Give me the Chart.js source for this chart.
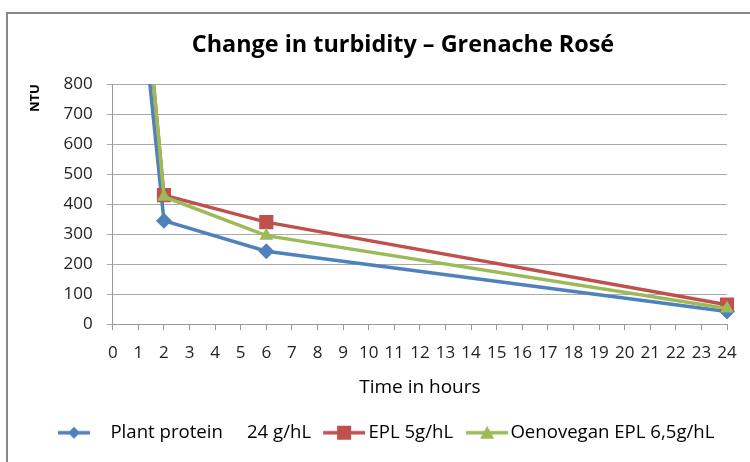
<!DOCTYPE html>
<html>
<head>
<meta charset="utf-8">
<script src="https://cdn.jsdelivr.net/npm/chart.js@4"></script>
<style>
  html, body { margin: 0; padding: 0; background: #fff; overflow: hidden; }
  #wrap { position: relative; width: 750px; height: 462px; overflow: hidden; }
  #frame { position: absolute; left: 6px; top: 12px; width: 800px; height: 500px;
           border-left: 2px solid #888; border-top: 2px solid #888; }
  #box { position: absolute; left: 0; top: 0; width: 750px; height: 462px; }
</style>
</head>
<body>
<div id="wrap">
  <div id="frame"></div>
  <div id="box"><canvas id="myChart" width="750" height="462"></canvas></div>
</div>
<script>
// hours since start
const hours = [0, 2, 6, 24];
// NTU readings
const plantProtein = [2000, 345, 243, 42];
const epl = [2250, 430, 340, 65];
const oenovegan = [2300, 425, 295, 52];
const seriesNames = ["           Plant protein     24 g/hL", "EPL 5g/hL", "Oenovegan EPL 6,5g/hL"];
const yTicks = { min: 0, max: 800, step: 100 };
const xTicks = { min: 0, max: 24, step: 1 };

const colors = ["#4F81BD", "#C0504D", "#9BBB59"];
const markers = ["diamond", "square", "triangle"];
const FONT = "'Open Sans', Lato, sans-serif";

function points(vals) {
  return hours.map((h, i) => ({ x: h, y: vals[i] }));
}

// line + marker icon for the legend; shift moves the visible part right
function legendIcon(color, marker, len, shift) {
  const w = 2 * (shift + len / 2) + 2;
  const c = document.createElement("canvas");
  c.width = w;
  c.height = 18;
  const g = c.getContext("2d");
  const x0 = w / 2 + shift - len / 2;
  const cx = x0 + len / 2;
  g.strokeStyle = color;
  g.fillStyle = color;
  g.lineWidth = 3.5;
  g.beginPath();
  g.moveTo(x0, 9);
  g.lineTo(x0 + len, 9);
  g.stroke();
  g.beginPath();
  if (marker === "diamond") {
    g.moveTo(cx, 3); g.lineTo(cx + 6, 9); g.lineTo(cx, 15); g.lineTo(cx - 6, 9);
  } else if (marker === "square") {
    g.rect(cx - 7, 2, 14, 14);
  } else {
    g.moveTo(cx, 2); g.lineTo(cx + 7, 15); g.lineTo(cx - 7, 15);
  }
  g.closePath();
  g.fill();
  return c;
}
const iconLen = [32, 42, 42];
const iconShift = [44, 3, 4];

const pointStyles = ["rectRot", "rect", "triangle"];
const pointRadii = [8, 10, 8];
const allSeries = [plantProtein, epl, oenovegan];

const data = {
  datasets: allSeries.map((vals, i) => ({
    label: seriesNames[i],
    data: points(vals),
    borderColor: colors[i],
    backgroundColor: colors[i],
    borderWidth: 3.5,
    pointStyle: pointStyles[i],
    pointRadius: (ctx) => (ctx.dataIndex === 0 ? 0 : pointRadii[i]),
    pointBorderWidth: 0,
    order: 2 - i,
    clip: { left: 0, top: 0, right: 15, bottom: 15 },
  })),
};

const config = {
  type: "line",
  data: data,
  options: {
    responsive: false,
    animation: false,
    layout: { padding: { top: 12, right: 23, left: 0, bottom: 10 } },
    plugins: {
      title: {
        display: true,
        text: "             Change in turbidity \u2013 Grenache Ros\u00e9",
        color: "#000",
        font: { family: FONT, size: 23.4, weight: "bold" },
        padding: { top: 19, bottom: 25 },
      },
      legend: {
        position: "bottom",
        align: "start",
        labels: {
          usePointStyle: true,
          pointStyleWidth: 36,
          color: "#000",
          padding: 12,
          font: { family: FONT, size: 18.6 },
          generateLabels: (chart) =>
            chart.data.datasets.map((ds, i) => ({
              text: ds.label,
              pointStyle: legendIcon(colors[i], markers[i], iconLen[i], iconShift[i]),
              fillStyle: colors[i],
              strokeStyle: colors[i],
              lineWidth: 0,
              datasetIndex: i,
              hidden: false,
            })),
        },
      },
      tooltip: { enabled: false },
    },
    scales: {
      x: {
        type: "linear",
        min: xTicks.min,
        max: xTicks.max,
        ticks: {
          stepSize: xTicks.step,
          color: "#222",
          padding: 13,
          maxRotation: 0,
          autoSkip: false,
          font: { family: FONT, size: 17 },
        },
        grid: { drawOnChartArea: false, drawTicks: true, tickLength: 6, color: "#999" },
        border: { color: "#999", width: 1 },
        title: {
          display: true,
          text: "Time in hours",
          color: "#000",
          font: { family: FONT, size: 19 },
          padding: { top: 0, bottom: 12 },
        },
      },
      y: {
        min: yTicks.min,
        max: yTicks.max,
        ticks: {
          stepSize: yTicks.step,
          color: "#222",
          padding: 14,
          font: { family: FONT, size: 17 },
        },
        grid: { color: "#aaa", tickLength: 6 },
        border: { color: "#999", width: 1 },
        title: {
          display: true,
          text: "NTU",
          align: "end",
          color: "#000",
          font: { family: FONT, size: 13, weight: "bold" },
          padding: { top: 27, bottom: 7 },
        },
      },
    },
  },
};

const ctx = document.getElementById("myChart").getContext("2d");
new Chart(ctx, config);
</script>
</body>
</html>
